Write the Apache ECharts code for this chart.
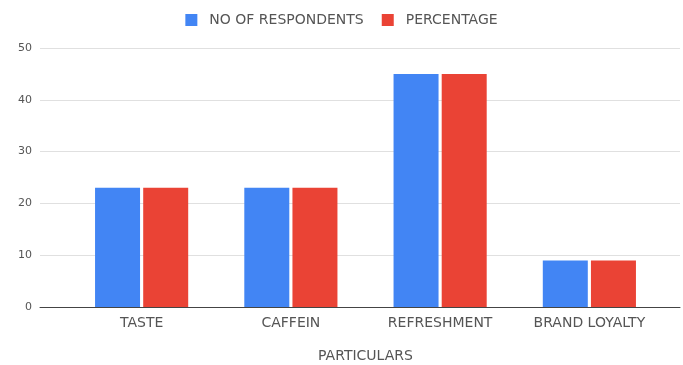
<!DOCTYPE html>
<html>
<head>
<meta charset="utf-8">
<script src="https://cdn.jsdelivr.net/npm/echarts@6/dist/echarts.min.js"></script>
<style>
  html, body { margin: 0; padding: 0; background: #fff; }
  #chart { width: 683px; height: 365px; }
</style>
</head>
<body>
<div id="chart"></div>
<script>
var categories = ['TASTE', 'CAFFEIN', 'REFRESHMENT', 'BRAND LOYALTY'];
var respondents = [23, 23, 45, 9];
var percentage = [23, 23, 45, 9];
var yTicks = [0, 10, 20, 30, 40, 50];

var myChart = echarts.init(document.getElementById('chart'));
var font = '"DejaVu Sans", Arial, sans-serif';
var option = {
    animation: false,
    legend: {
        top: 8,
        left: 'center',
        itemWidth: 12,
        itemHeight: 12,
        itemGap: 18,
        icon: 'rect',
        textStyle: { fontFamily: font, fontSize: 14, color: '#555', padding: [0, 0, 0, 7] },
        data: ['NO OF RESPONDENTS', 'PERCENTAGE']
    },
    grid: [
        // background grid: gridlines and y labels across the full width
        { left: 40, right: 3, top: 48, bottom: 58, outerBoundsMode: 'none' },
        // bar grid
        { left: 67, right: 19, top: 48, bottom: 58, outerBoundsMode: 'none' }
    ],
    xAxis: [
        {
            gridIndex: 0, type: 'category', data: [''],
            axisLine: { lineStyle: { color: '#444', width: 1 } },
            axisTick: { show: false }, axisLabel: { show: false }
        },
        {
            gridIndex: 1, type: 'category', data: categories,
            name: 'PARTICULARS', nameLocation: 'middle', nameGap: 42,
            nameTextStyle: { fontFamily: font, fontSize: 14, color: '#555' },
            axisLine: { show: false }, axisTick: { show: false },
            axisLabel: { fontFamily: font, fontSize: 14, color: '#555', margin: 9 }
        }
    ],
    yAxis: [
        {
            gridIndex: 0, type: 'value', min: yTicks[0], max: yTicks[yTicks.length - 1], interval: 10,
            axisLine: { show: false }, axisTick: { show: false },
            axisLabel: { fontFamily: font, fontSize: 11, color: '#555', margin: 8 },
            splitLine: { lineStyle: { color: '#e0e0e0' } }
        },
        {
            gridIndex: 1, type: 'value', min: yTicks[0], max: yTicks[yTicks.length - 1], interval: 10,
            axisLine: { show: false }, axisTick: { show: false },
            axisLabel: { show: false }, splitLine: { show: false }
        }
    ],
    series: [
        {
            name: 'NO OF RESPONDENTS', type: 'bar', xAxisIndex: 1, yAxisIndex: 1,
            data: respondents, barWidth: 45, barGap: '7%',
            itemStyle: { color: '#4285F4' }
        },
        {
            name: 'PERCENTAGE', type: 'bar', xAxisIndex: 1, yAxisIndex: 1,
            data: percentage, barWidth: 45, barGap: '7%',
            itemStyle: { color: '#EA4335' }
        }
    ]
};
myChart.setOption(option);
</script>
</body>
</html>
